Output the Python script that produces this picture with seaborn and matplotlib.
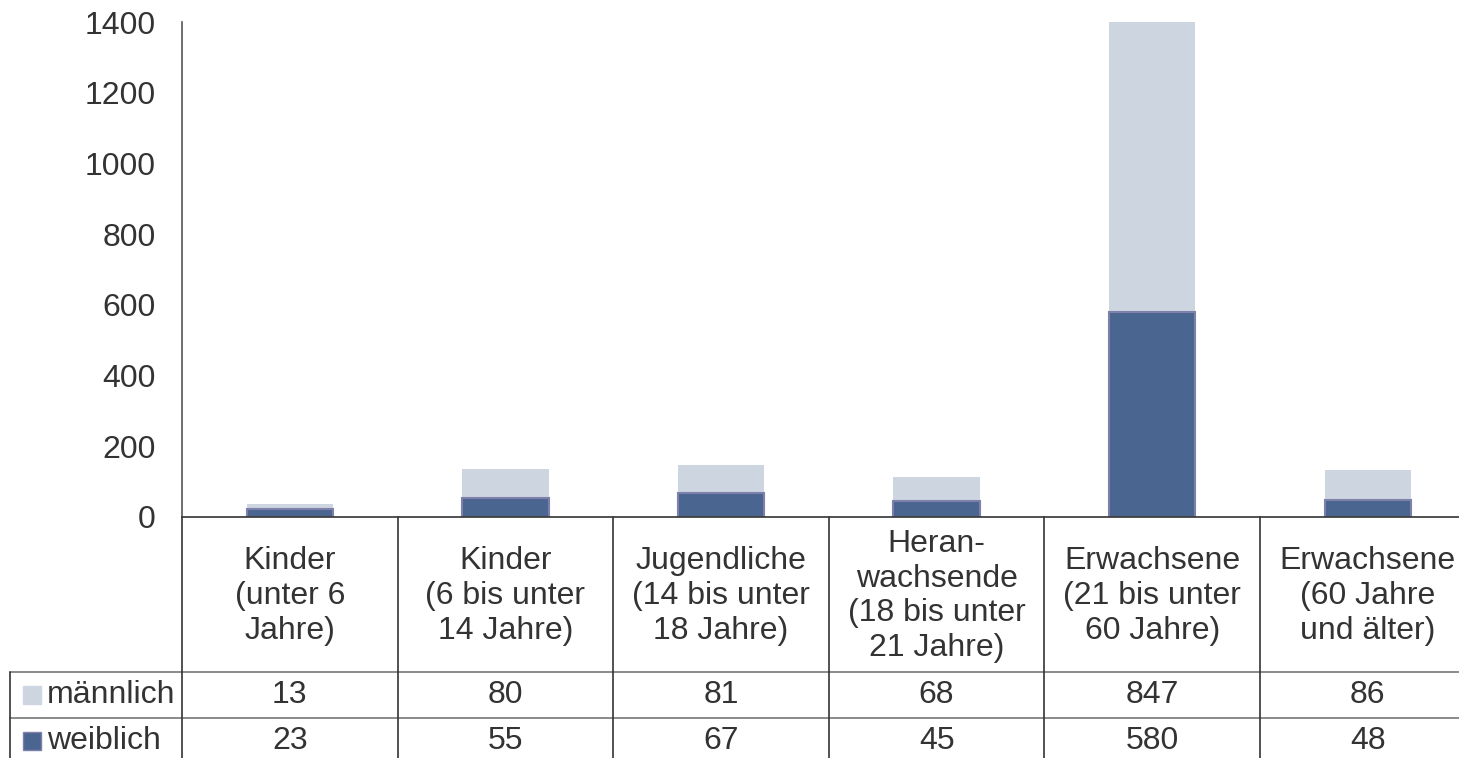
import matplotlib.pyplot as plt
import matplotlib.transforms as mtransforms
import seaborn as sns
import pandas as pd

# data
categories = ["Kinder\n(unter 6\nJahre)", "Kinder\n(6 bis unter\n14 Jahre)",
              "Jugendliche\n(14 bis unter\n18 Jahre)", "Heran-\nwachsende\n(18 bis unter\n21 Jahre)",
              "Erwachsene\n(21 bis unter\n60 Jahre)", "Erwachsene\n(60 Jahre\nund älter)"]
maennlich = [13, 80, 81, 68, 847, 86]
weiblich = [23, 55, 67, 45, 580, 48]
yticks = [0, 200, 400, 600, 800, 1000, 1200, 1400]

light = "#CDD5E0"
dark = "#4A658F"
text_col = "#333333"

df = pd.DataFrame({"cat": categories, "m": maennlich, "w": weiblich})
df["total"] = df["m"] + df["w"]

sns.set_style("white")
plt.rcParams["font.family"] = ["Liberation Sans", "DejaVu Sans"]

fig = plt.figure(figsize=(14.59, 7.58), dpi=100)
ax = fig.add_axes([182 / 1459, 241 / 758, 1293.6 / 1459, 495 / 758])

# stacked bars: totals in light, weiblich on top in dark
sns.barplot(data=df, x="cat", y="total", color=light, width=0.4, ax=ax,
            saturation=1, linewidth=0)
sns.barplot(data=df, x="cat", y="w", color=dark, width=0.4, ax=ax,
            saturation=1, edgecolor="#7E80AC", linewidth=1.5)

ax.set_xlim(-0.5, 5.5)
ax.set_ylim(0, 1400)
ax.set_yticks(yticks)
ax.tick_params(axis="y", length=0, pad=19, labelsize=23, labelcolor=text_col)
ax.set_xticks([])
ax.set_xlabel("")
ax.set_ylabel("")
for s in ["top", "right"]:
    ax.spines[s].set_visible(False)
ax.spines["left"].set_color("#555555")
ax.spines["left"].set_linewidth(1.2)
ax.spines["bottom"].set_color("#333333")
ax.spines["bottom"].set_linewidth(1.2)

# data table under the chart
trans = mtransforms.blended_transform_factory(ax.transData, ax.transAxes)
r1, r2, r3 = -0.313, -0.406, -0.50
x_left = -0.5 - 172 / 215.6
n = len(categories)

line_kw = dict(transform=trans, clip_on=False, lw=1.2)
ax.plot([x_left, n - 0.5], [r1, r1], color="#777777", **line_kw)
ax.plot([x_left, n - 0.5], [r2, r2], color="#777777", **line_kw)
ax.plot([x_left, x_left], [r1, r3], color="#333333", **line_kw)
for i in range(n):
    ax.plot([i - 0.5, i - 0.5], [0, r3], color="#333333", **line_kw)

for i, row in df.iterrows():
    ax.text(i, r1 / 2 - 0.003, row["cat"], transform=trans, ha="center", va="center",
            fontsize=23, color=text_col, linespacing=1.2)
    ax.text(i, (r1 + r2) / 2, str(row["m"]), transform=trans, ha="center",
            va="center", fontsize=23, color=text_col)
    ax.text(i, -0.453, str(row["w"]), transform=trans, ha="center",
            va="center", fontsize=23, color=text_col)

x_sq = -0.5 - (182 - 31.5) / 215.6
x_lab = -0.5 - 135 / 215.6
for y, c, lab, ec in [((r1 + r2) / 2, light, "männlich", light),
                      (-0.453, dark, "weiblich", "#7E80AC")]:
    ax.plot([x_sq], [y], marker="s", ms=12.5, color=c, mec=ec,
            transform=trans, clip_on=False)
    ax.text(x_lab, y, lab, transform=trans, ha="left", va="center",
            fontsize=23, color=text_col)

plt.savefig("out.png", dpi=100)
